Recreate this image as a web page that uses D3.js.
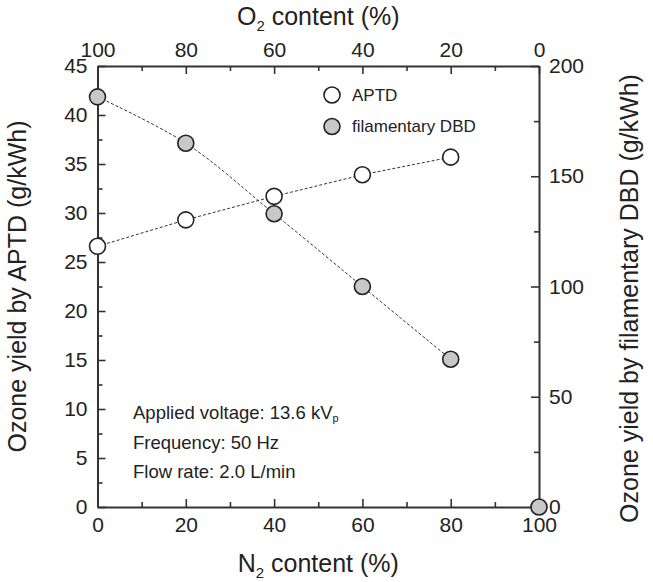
<!DOCTYPE html>
<html>
<head>
<meta charset="utf-8">
<script src="https://cdn.jsdelivr.net/npm/d3@7"></script>
<style>
  body { margin: 0; background: #fff; }
  svg text { font-family: "Liberation Sans", Arial, sans-serif; fill: #222; }
  .axis path, .axis line { stroke: #333; }
  .axis path { stroke-width: 2; }
  .axis line { stroke-width: 1.6; }
</style>
</head>
<body>
<div id="chart"></div>
<script>
// N2 content (%) on the bottom, O2 = 100 - N2 on the top
const n2Content = [0, 20, 40, 60, 80, 100];
const aptdN2 = [0, 20, 40, 60, 80];
const aptdYield = [26.6, 29.3, 31.7, 33.9, 35.7];          // left axis, g/kWh
const dbdYield = [186, 165, 133, 100, 67, 0];               // right axis, g/kWh
const dbdCurveCount = 5;                                     // dashed curve joins first 5 points

const n2Ticks = [0, 20, 40, 60, 80, 100];
const n2Minor = [10, 30, 50, 70, 90];
const o2Ticks = [100, 80, 60, 40, 20, 0];
const o2Minor = [90, 70, 50, 30, 10];
const leftTicks = [0, 5, 10, 15, 20, 25, 30, 35, 40, 45];
const leftMinor = [2.5, 7.5, 12.5, 17.5, 22.5, 27.5, 32.5, 37.5, 42.5];
const rightTicks = [0, 50, 100, 150, 200];
const rightMinor = [25, 75, 125, 175];

const notes = ["Applied voltage: 13.6 kV", "Frequency: 50 Hz", "Flow rate: 2.0 L/min"];

const width = 653, height = 582;
const margin = {top: 66, right: 114, bottom: 75, left: 97.5};
const w = width - margin.left - margin.right,
      h = height - margin.top - margin.bottom;

const svg = d3.select('#chart').append('svg')
    .attr('width', width).attr('height', height);
const g = svg.append('g')
    .attr('transform', `translate(${margin.left},${margin.top})`);

const x = d3.scaleLinear([0, 100], [0, w]);
const xTop = d3.scaleLinear([100, 0], [0, w]);
const yL = d3.scaleLinear([0, 45], [h, 0]);
const yR = d3.scaleLinear([0, 200], [h, 0]);

function drawAxis(gen, major, minor, transform, pad){
    const a = g.append('g').attr('class', 'axis').attr('transform', transform);
    a.call(gen.tickValues(major).tickSize(-8).tickSizeOuter(0).tickPadding(pad));
    a.selectAll('text').style('font-size', '21px').attr('fill', '#222');
    const m = g.append('g').attr('class', 'axis').attr('transform', transform);
    m.call(gen.tickValues(minor).tickSize(-5).tickSizeOuter(0).tickFormat(''));
    m.select('path').remove();
    return a;
}

drawAxis(d3.axisBottom(x), n2Ticks, n2Minor, `translate(0,${h})`, 10);
drawAxis(d3.axisTop(xTop), o2Ticks, o2Minor, 'translate(0,0)', 9);
drawAxis(d3.axisLeft(yL), leftTicks, leftMinor, 'translate(0,0)', 10);
drawAxis(d3.axisRight(yR), rightTicks, rightMinor, `translate(${w},0)`, 10);

// axis titles
const bt = svg.append('text').attr('x', margin.left + w/2).attr('y', 572)
    .attr('text-anchor', 'middle').style('font-size', '25px');
bt.append('tspan').text('N');
bt.append('tspan').text('2').style('font-size', '15px').attr('dy', 6);
bt.append('tspan').text(' content (%)').attr('dy', -6);

const tt = svg.append('text').attr('x', margin.left + w/2).attr('y', 25)
    .attr('text-anchor', 'middle').style('font-size', '25px');
tt.append('tspan').text('O');
tt.append('tspan').text('2').style('font-size', '15px').attr('dy', 6);
tt.append('tspan').text(' content (%)').attr('dy', -6);

svg.append('text')
    .attr('transform', `translate(26,${margin.top + h/2})rotate(-90)`)
    .attr('text-anchor', 'middle').style('font-size', '25px')
    .text('Ozone yield by APTD (g/kWh)');
svg.append('text')
    .attr('transform', `translate(638,${margin.top + h/2 + 12})rotate(-90)`)
    .attr('text-anchor', 'middle').style('font-size', '25px')
    .text('Ozone yield by filamentary DBD (g/kWh)');

// dashed guide lines
const aptdPts = aptdN2.map((d, i) => [x(d), yL(aptdYield[i])]);
const dbdPts = n2Content.slice(0, dbdCurveCount).map((d, i) => [x(d), yR(dbdYield[i])]);

g.append('path').attr('d', d3.line()(aptdPts))
    .attr('fill', 'none').attr('stroke', '#333').attr('stroke-width', 1)
    .attr('stroke-dasharray', '3,2');
g.append('path').attr('d', d3.line().curve(d3.curveCatmullRom)(dbdPts))
    .attr('fill', 'none').attr('stroke', '#333').attr('stroke-width', 1)
    .attr('stroke-dasharray', '3,2');

// markers
g.selectAll('circle.aptd').data(aptdN2).join('circle')
    .attr('class', 'aptd')
    .attr('cx', d => x(d)).attr('cy', (d, i) => yL(aptdYield[i])).attr('r', 8)
    .attr('fill', '#fff').attr('stroke', '#222').attr('stroke-width', 1.6);
g.selectAll('circle.dbd').data(n2Content).join('circle')
    .attr('class', 'dbd')
    .attr('cx', d => x(d)).attr('cy', (d, i) => yR(dbdYield[i])).attr('r', 8)
    .attr('fill', '#c8c8c8').attr('stroke', '#222').attr('stroke-width', 1.6);

// legend
const legend = [['APTD', '#fff'], ['filamentary DBD', '#c8c8c8']];
const lg = svg.append('g').attr('transform', 'translate(332,95)');
legend.forEach((d, i) => {
    lg.append('circle').attr('cx', 0).attr('cy', i*31.5).attr('r', 8)
        .attr('fill', d[1]).attr('stroke', '#222').attr('stroke-width', 1.6);
    lg.append('text').attr('x', 20).attr('y', i*31.5).attr('dy', '0.35em')
        .style('font-size', '17px').text(d[0]);
});

// run conditions
notes.forEach((t, i) => {
    const tx = svg.append('text').attr('x', 133).attr('y', 419 + i*29.5)
        .style('font-size', '18.5px').text(t);
    if(i === 0) tx.append('tspan').text('p').style('font-size', '11px').attr('dy', 3);
});
</script>
</body>
</html>
